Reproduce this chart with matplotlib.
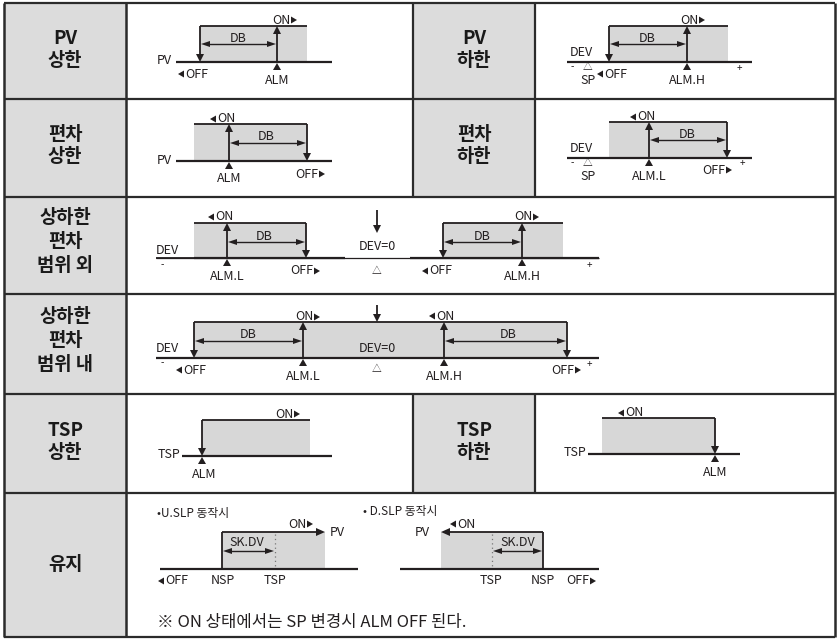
import matplotlib
matplotlib.use("Agg")
import matplotlib.pyplot as plt
from matplotlib.patches import Polygon, Rectangle

plt.rcParams['font.family'] = ['Noto Sans CJK KR', 'DejaVu Sans']

# table text
row_edges = [3, 99, 197, 294, 394, 493, 637]
left_titles = [["PV", "상한"], ["편차", "상한"], ["상하한", "편차", "범위 외"],
               ["상하한", "편차", "범위 내"], ["TSP", "상한"], ["유지"]]
right_titles = {0: ["PV", "하한"], 1: ["편차", "하한"], 4: ["TSP", "하한"]}
slp_titles = ["•U.SLP 동작시", "• D.SLP 동작시"]
note_text = "※ ON 상태에서는 SP 변경시 ALM OFF 된다."

INK = '#231f20'
GRID = '#2b2b2b'
CELL = '#dcdcdc'
FILL = '#d7d7d7'
LW = 1.3
FS = 9

fig = plt.figure(figsize=(8.38, 6.40), dpi=100)
ax = fig.add_axes([0, 0, 1, 1])
ax.set_xlim(0, 838)
ax.set_ylim(640, 0)
ax.axis('off')


def line(x0, y0, x1, y1, lw=LW, color=INK, **kw):
    ax.plot([x0, x1], [y0, y1], color=color, lw=lw, solid_capstyle='butt', **kw)


def head(x, y, d, L=8, W=7):
    if d == 'd':
        pts = [(x, y), (x - W / 2, y - L), (x + W / 2, y - L)]
    elif d == 'u':
        pts = [(x, y), (x - W / 2, y + L), (x + W / 2, y + L)]
    elif d == 'r':
        pts = [(x, y), (x - L, y - W / 2), (x - L, y + W / 2)]
    else:
        pts = [(x, y), (x + L, y - W / 2), (x + L, y + W / 2)]
    ax.add_patch(Polygon(pts, closed=True, fc=INK, ec='none', zorder=5))


def varrow(x, y0, y1):
    s = 1 if y1 > y0 else -1
    line(x, y0, x, y1 - s * 7)
    head(x, y1, 'd' if s > 0 else 'u', 8, 8)


def dbl(x0, x1, y):
    line(x0 + 7, y, x1 - 7, y, lw=1.0)
    head(x0 + 1, y, 'l', 9, 6)
    head(x1 - 1, y, 'r', 9, 6)


def txt(x, y, s, ha='center', size=FS, **kw):
    ax.text(x, y, s, ha=ha, va='center', fontsize=size, color=INK, **kw)


def mark(x, y):
    # small triangle under the baseline
    head(x, y + 1, 'u', 7, 8)


def on_right(tip, y, s):
    head(tip, y, 'r', 6, 7)
    txt(tip - 7, y, s, ha='right')


def on_left(tip, y, s):
    head(tip, y, 'l', 6, 7)
    txt(tip + 7, y, s, ha='left')


def box(x0, x1, y0, y1):
    ax.add_patch(Rectangle((x0, y0), x1 - x0, y1 - y0, fc=FILL, ec='none', zorder=1))
    line(x0, y0, x1, y0)


def base(x0, x1, y):
    line(x0, y, x1, y, lw=1.6)


# ---- table grid ----
for i in range(6):
    y0, y1 = row_edges[i], row_edges[i + 1]
    ax.add_patch(Rectangle((4, y0), 122, y1 - y0, fc=CELL, ec='none', zorder=0))
    if i in right_titles:
        ax.add_patch(Rectangle((413, y0), 122, y1 - y0, fc=CELL, ec='none', zorder=0))
        line(413, y0, 413, y1, lw=1.6, color=GRID)
        line(535, y0, 535, y1, lw=1.6, color=GRID)
for y in row_edges:
    line(4, y, 835, y, lw=1.6, color=GRID)
line(4, 3, 4, 637, lw=1.8, color=GRID)
line(835, 3, 835, 637, lw=1.8, color=GRID)
line(126, 3, 126, 637, lw=1.8, color=GRID)


def title(cx, y0, y1, lines):
    n = len(lines)
    mid = (y0 + y1) / 2 - (2 if n == 2 else 4 if n == 3 else 0)
    gap = 22 if n == 2 else 24
    for k, s in enumerate(lines):
        ax.text(cx, mid + (k - (n - 1) / 2) * gap, s, ha='center', va='center',
                fontsize=13.5, fontweight='bold', color='#1a1a1a')


for i, t in enumerate(left_titles):
    title(65, row_edges[i], row_edges[i + 1], t)
for i, t in right_titles.items():
    title(474, row_edges[i], row_edges[i + 1], t)

# ---- PV 상한 ----
box(200, 307, 26, 62)
base(176, 332, 62)
txt(172, 61, "PV", ha='right')
varrow(200, 26, 62)
varrow(277, 62, 26)
dbl(200, 277, 44)
txt(238, 38, "DB")
mark(277, 62)
txt(277, 80, "ALM")
on_right(297, 20, "ON")
on_left(178, 74, "OFF")

# ---- PV 하한 ----
box(609, 728, 26, 62)
base(567, 752, 62)
txt(570, 53, "DEV", ha='left')
txt(572, 67, "-", size=7)
txt(588, 67, "△", size=7)
txt(588, 80, "SP")
varrow(609, 26, 62)
varrow(687, 62, 26)
dbl(609, 687, 44)
txt(647, 38, "DB")
mark(687, 62)
txt(687, 80, "ALM.H")
txt(739, 68, "+", size=7)
on_right(705, 20, "ON")
on_left(597, 74, "OFF")

# ---- 편차 상한 ----
box(194, 307, 124, 161)
base(176, 332, 161)
txt(172, 160, "PV", ha='right')
varrow(229, 161, 124)
varrow(307, 124, 161)
dbl(229, 307, 143)
txt(266, 137, "DB")
mark(229, 161)
txt(229, 179, "ALM")
on_left(210, 119, "ON")
on_right(325, 174, "OFF")

# ---- 편차 하한 ----
box(609, 727, 122, 158)
base(567, 752, 158)
txt(570, 149, "DEV", ha='left')
txt(572, 163, "-", size=7)
txt(588, 163, "△", size=7)
txt(588, 176, "SP")
varrow(649, 158, 122)
varrow(727, 122, 158)
dbl(649, 727, 140)
txt(687, 134, "DB")
mark(649, 158)
txt(649, 176, "ALM.L")
txt(742, 163, "+", size=7)
on_left(630, 117, "ON")
on_right(732, 170, "OFF")

# ---- 상하한 편차 범위 외 ----
box(194, 306, 223, 258)
box(443, 563, 223, 258)
line(156, 258, 599, 258, lw=0.9)
base(194, 345, 258)
base(410, 599, 258)
line(156, 258, 194, 258, lw=1.3)
txt(156, 251, "DEV", ha='left')
txt(162, 265, "-", size=7)
txt(589, 265, "+", size=7)
varrow(227, 258, 223)
varrow(306, 223, 258)
dbl(227, 306, 242)
txt(264, 236, "DB")
mark(227, 258)
txt(227, 276, "ALM.L")
on_left(208, 217, "ON")
on_right(320, 271, "OFF")
varrow(377, 210, 233)
txt(377, 247, "DEV=0")
txt(377, 271, "△", size=7)
varrow(443, 223, 258)
varrow(522, 258, 223)
dbl(443, 522, 242)
txt(482, 236, "DB")
mark(522, 258)
txt(522, 276, "ALM.H")
on_right(539, 217, "ON")
on_left(422, 271, "OFF")

# ---- 상하한 편차 범위 내 ----
box(194, 567, 322, 358)
base(156, 599, 358)
txt(156, 349, "DEV", ha='left')
txt(162, 363, "-", size=7)
txt(589, 364, "+", size=7)
varrow(194, 322, 358)
varrow(567, 322, 358)
varrow(303, 358, 322)
varrow(444, 358, 322)
varrow(377, 305, 322)
dbl(194, 303, 341)
txt(248, 334, "DB")
dbl(444, 567, 341)
txt(508, 334, "DB")
txt(377, 348, "DEV=0")
txt(377, 369, "△", size=7)
mark(303, 358)
txt(303, 376, "ALM.L")
mark(444, 358)
txt(444, 376, "ALM.H")
on_right(320, 317, "ON")
on_left(429, 316, "ON")
on_left(176, 370, "OFF")
on_right(581, 370, "OFF")

# ---- TSP 상한 ----
box(202, 310, 420, 456)
base(182, 332, 456)
txt(180, 455, "TSP", ha='right')
varrow(202, 420, 456)
mark(202, 456)
txt(204, 474, "ALM")
on_right(300, 414, "ON")

# ---- TSP 하한 ----
box(602, 715, 418, 454)
base(588, 740, 454)
txt(586, 453, "TSP", ha='right')
varrow(715, 418, 454)
mark(715, 454)
txt(715, 472, "ALM")
on_left(618, 413, "ON")

# ---- 유지 : U.SLP ----
txt(157, 513, slp_titles[0], ha='left', size=8.5)
ax.add_patch(Rectangle((222, 532), 103, 37, fc=FILL, ec='none', zorder=1))
base(160, 358, 569)
line(222, 569, 222, 532)
line(222, 532, 318, 532)
head(325, 532, 'r', 9, 8)
line(275, 534, 275, 569, lw=0.9, color='#777777', linestyle=(0, (1, 2.5)))
dbl(222, 275, 551)
txt(247, 543, "SK.DV")
txt(330, 533, "PV", ha='left')
txt(223, 581, "NSP")
txt(275, 581, "TSP")
on_right(313, 524, "ON")
on_left(158, 581, "OFF")

# ---- 유지 : D.SLP ----
txt(363, 512, slp_titles[1], ha='left', size=8.5)
ax.add_patch(Rectangle((441, 532), 102, 37, fc=FILL, ec='none', zorder=1))
base(400, 599, 569)
line(543, 569, 543, 532)
line(543, 532, 448, 532)
head(441, 532, 'l', 9, 8)
line(492, 534, 492, 569, lw=0.9, color='#777777', linestyle=(0, (1, 2.5)))
dbl(492, 543, 551)
txt(518, 542, "SK.DV")
txt(430, 533, "PV", ha='right')
txt(491, 581, "TSP")
txt(543, 581, "NSP")
on_left(450, 524, "ON")
on_right(596, 581, "OFF")

txt(157, 623, note_text, ha='left', size=12)

fig.savefig('out.png', dpi=100)
